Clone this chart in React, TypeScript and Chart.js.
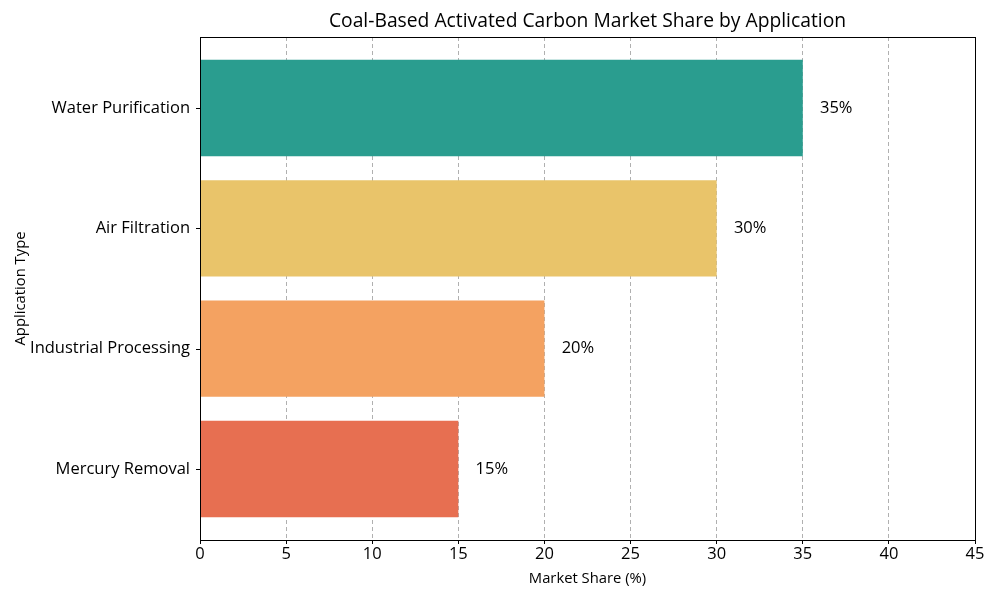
import React, { useEffect, useRef } from "react";
import { Chart, registerables } from "chart.js";

Chart.register(...registerables);

const categories = ["Water Purification", "Air Filtration", "Industrial Processing", "Mercury Removal"];
const shares = [35, 30, 20, 15];
const barColors = ["#2a9d8f", "#e9c46a", "#f4a261", "#e76f51"];
const xTicks = [0, 5, 10, 15, 20, 25, 30, 35, 40, 45];
const chartTitle = "Coal-Based Activated Carbon Market Share by Application";

const FONT = "'Open Sans', Roboto, sans-serif";

const framePlugin = {
  id: "frame",
  afterDatasetsDraw(chart: any) {
    const { ctx } = chart;
    const meta = chart.getDatasetMeta(0);
    ctx.save();
    ctx.fillStyle = "#000";
    ctx.font = `16.5px ${FONT}`;
    ctx.textBaseline = "middle";
    ctx.textAlign = "left";
    const xs = chart.scales.x;
    meta.data.forEach((bar: any, i: number) => {
      const px = xs.getPixelForValue(shares[i] + 1);
      ctx.fillText(`${shares[i]}%`, px, bar.y);
    });
    ctx.restore();
  },
  afterDraw(chart: any) {
    const { ctx, chartArea } = chart;
    ctx.save();
    ctx.strokeStyle = "#000";
    ctx.lineWidth = 1;
    ctx.strokeRect(chartArea.left + 0.5, chartArea.top + 0.5, chartArea.right - chartArea.left, chartArea.bottom - chartArea.top);
    // y tick marks
    const ys = chart.scales.y;
    ctx.beginPath();
    categories.forEach((_, i) => {
      const py = Math.round(ys.getPixelForValue(i)) + 0.5;
      ctx.moveTo(chartArea.left - 4, py);
      ctx.lineTo(chartArea.left, py);
    });
    ctx.stroke();
    // title centred on plot area
    ctx.fillStyle = "#000";
    ctx.font = `19.3px ${FONT}`;
    ctx.textAlign = "center";
    ctx.textBaseline = "middle";
    ctx.fillText(chartTitle, (chartArea.left + chartArea.right) / 2, 22);
    ctx.restore();
  },
};

export default function App() {
  const ref = useRef<HTMLCanvasElement>(null);
  useEffect(() => {
    const chart = new Chart(ref.current!, {
      type: "bar",
      data: {
        datasets: [
          {
            data: shares.map((v, i) => ({ x: v, y: i })),
            backgroundColor: barColors,
            borderWidth: 0,
            barPercentage: 0.8,
            categoryPercentage: 1.0,
          },
        ],
      },
      options: {
        indexAxis: "y",
        animation: false,
        responsive: false,
        layout: { padding: { left: 0, right: 25, top: 37, bottom: 0 } },
        plugins: {
          legend: { display: false },
          tooltip: { enabled: false },
          title: { display: false },
        },
        scales: {
          x: {
            type: "linear",
            min: 0,
            max: 45,
            offset: false,
            z: 1,
            afterBuildTicks: (s: any) => {
              s.ticks = xTicks.map((v) => ({ value: v }));
            },
            afterFit: (s: any) => {
              s.height = 60;
            },
            ticks: { color: "#000", font: { family: FONT, size: 16.5 }, padding: 0, maxRotation: 0 },
            grid: {
              offset: false,
              color: "#b0b0b0",
              tickColor: "#000",
              tickBorderDash: [],
              tickLength: 4,
              drawOnChartArea: true,
            },
            border: { display: true, color: "#000", dash: [4, 3] },
            title: {
              display: true,
              text: "Market Share (%)",
              color: "#000",
              font: { family: FONT, size: 14.8 },
              padding: { top: 4, bottom: 12 },
            },
          },
          y: {
            type: "linear",
            min: -0.59,
            max: 3.59,
            offset: false,
            reverse: true,
            afterBuildTicks: (s: any) => {
              s.ticks = categories.map((_, i) => ({ value: i }));
            },
            afterFit: (s: any) => {
              s.width = 200;
            },
            ticks: {
              color: "#000",
              font: { family: FONT, size: 16.5 },
              padding: 10,
              callback: (v: any) => categories[v as number] ?? "",
            },
            grid: {
              display: false,
              offset: false,
              drawOnChartArea: false,
              drawTicks: false,
            },
            border: { display: true, color: "#000" },
            title: {
              display: true,
              text: "Application Type",
              color: "#000",
              font: { family: FONT, size: 14.8 },
              padding: { top: 12, bottom: 0 },
            },
          },
        },
      } as any,
      plugins: [framePlugin],
    });
    return () => chart.destroy();
  }, []);
  return (
    <div style={{ position: "absolute", left: 0, top: 0, width: 1000, height: 600, background: "#fff" }}>
      <canvas ref={ref} width={1000} height={600} />
    </div>
  );
}
